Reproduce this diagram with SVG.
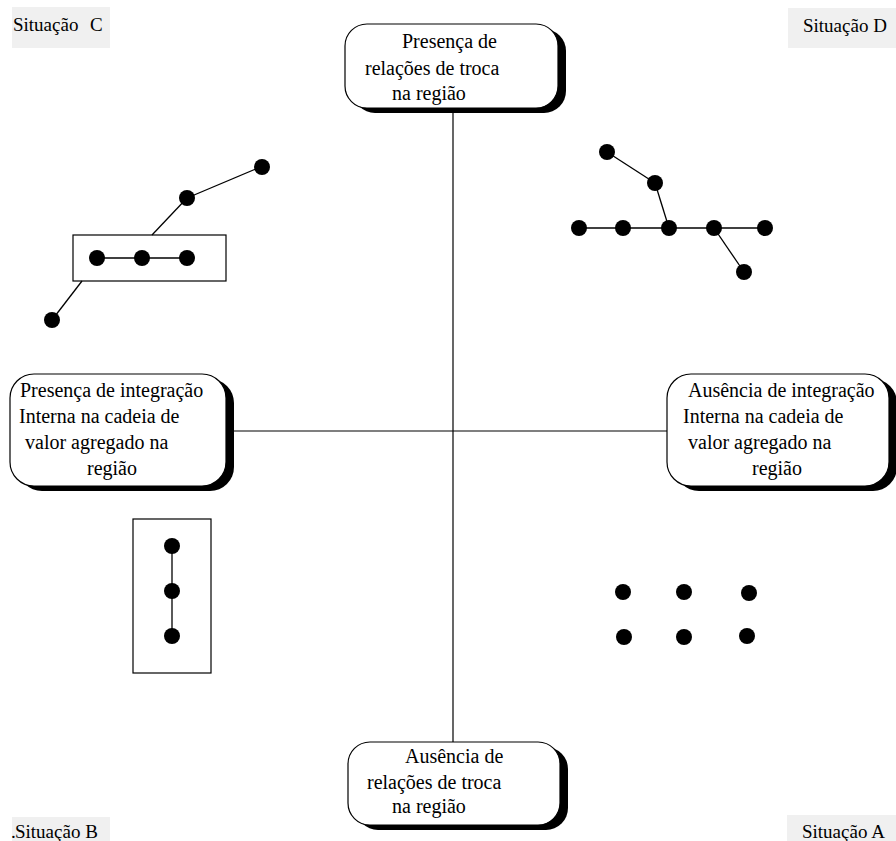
<svg xmlns="http://www.w3.org/2000/svg" width="896" height="841" viewBox="0 0 896 841">
<style>
.bg{fill:#ffffff}
.lbl{fill:#f0f0f0}
.t{font-family:"Liberation Serif","Times New Roman",serif;font-size:20px;fill:#000}
.s{font-family:"Liberation Serif","Times New Roman",serif;font-size:19px;fill:#000}
.box{fill:#fff;stroke:#000;stroke-width:1.2}
.sh{fill:#000}
.ax{stroke:#000;stroke-width:1.2;fill:none}
.ln{stroke:#000;stroke-width:1.3;fill:none}
.fr{fill:none;stroke:#000;stroke-width:1.2}
.d{fill:#000}
</style>
<rect class="bg" x="0" y="0" width="896" height="841"/>

<g id="connectors">
<line class="ax" x1="453" y1="112" x2="453" y2="742"/>
<line class="ax" x1="234" y1="431" x2="667" y2="431"/>
</g>

<g id="node-top">
<rect class="sh" x="353" y="29" width="213" height="84" rx="22"/>
<rect class="box" x="345" y="24" width="213" height="84" rx="22"/>
<text class="t" x="402" y="48">Presença de</text>
<text class="t" x="365" y="75">relações de troca</text>
<text class="t" x="392" y="100">na região</text>
</g>

<g id="node-bottom">
<rect class="sh" x="356" y="747" width="212" height="83" rx="22"/>
<rect class="box" x="348" y="742" width="212" height="83" rx="22"/>
<text class="t" x="405" y="763">Ausência de</text>
<text class="t" x="367" y="789">relações de troca</text>
<text class="t" x="392" y="813">na região</text>
</g>

<g id="node-left">
<rect class="sh" x="18" y="379" width="216" height="112" rx="24"/>
<rect class="box" x="10" y="374" width="216" height="112" rx="24"/>
<text class="t" x="20" y="397">Presença de integração</text>
<text class="t" x="19" y="423">Interna na cadeia de</text>
<text class="t" x="25" y="449">valor agregado na</text>
<text class="t" x="87" y="475">região</text>
</g>

<g id="node-right">
<rect class="sh" x="675" y="379" width="222" height="112" rx="24"/>
<rect class="box" x="667" y="374" width="222" height="112" rx="24"/>
<text class="t" x="688" y="397">Ausência de integração</text>
<text class="t" x="683" y="423">Interna na cadeia de</text>
<text class="t" x="688" y="449">valor agregado na</text>
<text class="t" x="752" y="475">região</text>
</g>

<g id="situacao-c-label">
<rect class="lbl" x="12" y="7" width="98" height="41"/>
<text class="s" x="13" y="31">Situação <tspan x="90">C</tspan></text>
</g>
<g id="situacao-d-label">
<rect class="lbl" x="788" y="8" width="108" height="40"/>
<text class="s" x="803" y="32">Situação D</text>
</g>
<g id="situacao-b-label">
<rect class="lbl" x="12" y="817" width="98" height="24"/>
<text class="s" x="11" y="838">.<tspan x="15">Situação B</tspan></text>
</g>
<g id="situacao-a-label">
<rect class="lbl" x="787" y="815" width="109" height="26"/>
<text class="s" x="802" y="838">Situação A</text>
</g>

<g id="situacao-c">
<rect class="fr" x="73" y="235" width="153" height="46"/>
<line class="ln" x1="258" y1="168" x2="187" y2="198"/>
<line class="ln" x1="187" y1="198" x2="152" y2="235"/>
<line class="ln" x1="97" y1="258" x2="187" y2="258"/>
<line class="ln" x1="82" y1="281" x2="52" y2="320"/>
<circle class="d" cx="262" cy="167" r="8"/>
<circle class="d" cx="187" cy="198" r="8"/>
<circle class="d" cx="97" cy="258" r="8"/>
<circle class="d" cx="142" cy="258" r="8"/>
<circle class="d" cx="187" cy="258" r="8"/>
<circle class="d" cx="52" cy="320" r="8"/>
</g>

<g id="situacao-d">
<line class="ln" x1="607" y1="152" x2="655" y2="183"/>
<line class="ln" x1="655" y1="183" x2="669" y2="228"/>
<line class="ln" x1="579" y1="228" x2="765" y2="228"/>
<line class="ln" x1="714" y1="228" x2="744" y2="272"/>
<circle class="d" cx="607" cy="152" r="8"/>
<circle class="d" cx="655" cy="183" r="8"/>
<circle class="d" cx="579" cy="228" r="8"/>
<circle class="d" cx="623" cy="228" r="8"/>
<circle class="d" cx="669" cy="228" r="8"/>
<circle class="d" cx="714" cy="228" r="8"/>
<circle class="d" cx="765" cy="228" r="8"/>
<circle class="d" cx="744" cy="272" r="8"/>
</g>

<g id="situacao-b">
<rect class="fr" x="133" y="519" width="78" height="154"/>
<line class="ln" x1="172" y1="546" x2="172" y2="636"/>
<circle class="d" cx="172" cy="546" r="8"/>
<circle class="d" cx="172" cy="591" r="8"/>
<circle class="d" cx="172" cy="636" r="8"/>
</g>

<g id="situacao-a">
<circle class="d" cx="623" cy="592" r="8"/>
<circle class="d" cx="684" cy="592" r="8"/>
<circle class="d" cx="749" cy="593" r="8"/>
<circle class="d" cx="624" cy="637" r="8"/>
<circle class="d" cx="684" cy="637" r="8"/>
<circle class="d" cx="747" cy="636" r="8"/>
</g>
</svg>
